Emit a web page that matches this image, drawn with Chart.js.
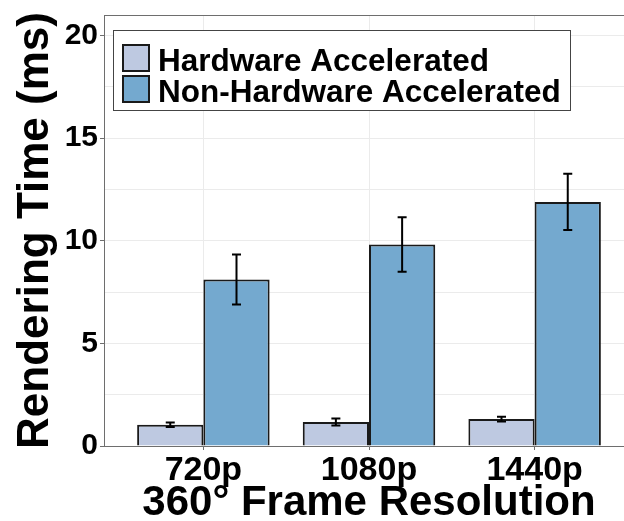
<!DOCTYPE html>
<html>
<head>
<meta charset="utf-8">
<script src="https://cdn.jsdelivr.net/npm/chart.js@4/dist/chart.umd.min.js"></script>
<style>
  html, body { margin: 0; padding: 0; overflow: hidden; background: #fff; }
  canvas { display: block; }
</style>
</head>
<body>
<canvas id="c" width="636" height="521"></canvas>
<script>
// Rendering time per 360° frame resolution (ms), mean and error
const resolutions = ['720p', '1080p', '1440p'];
const seriesNames = ['Hardware Accelerated', 'Non-Hardware Accelerated'];
const hwMean = [1.04, 1.17, 1.31];
const hwErr = [0.11, 0.17, 0.12];
const nhwMean = [8.11, 9.82, 11.89];
const nhwErr = [1.22, 1.33, 1.37];
const yTickLabels = [0, 5, 10, 15, 20];

const FONT = "'Liberation Sans', Arial, Helvetica, sans-serif";
const AXIS_GREY = '#6e6e6e';
const GRID_GREY = '#ebebeb';

const errors = [hwErr, nhwErr];

function toPoints(means) {
  return means.map((v, i) => ({ x: i, y: v }));
}

// error bars with caps, drawn from each bar's value +/- its error
const errorBarPlugin = {
  id: 'errorBars',
  afterDatasetsDraw(chart) {
    const ctx = chart.ctx;
    const yScale = chart.scales.y;
    ctx.save();
    ctx.strokeStyle = '#000';
    ctx.lineWidth = 2;
    chart.data.datasets.forEach((ds, di) => {
      const meta = chart.getDatasetMeta(di);
      meta.data.forEach((bar, j) => {
        const v = ds.data[j].y;
        const e = errors[di][j];
        const yTop = yScale.getPixelForValue(v + e);
        const yBot = yScale.getPixelForValue(v - e);
        const x = bar.x;
        ctx.beginPath();
        ctx.moveTo(x, yTop); ctx.lineTo(x, yBot);
        ctx.moveTo(x - 4.5, yTop); ctx.lineTo(x + 4.5, yTop);
        ctx.moveTo(x - 4.5, yBot); ctx.lineTo(x + 4.5, yBot);
        ctx.stroke();
      });
    });
    ctx.restore();
  }
};

// top edge of the panel and the boxed legend in the upper left
const panelPlugin = {
  id: 'panel',
  afterDraw(chart) {
    const ctx = chart.ctx;
    const a = chart.chartArea;
    ctx.save();
    ctx.strokeStyle = AXIS_GREY;
    ctx.lineWidth = 1;
    ctx.beginPath();
    ctx.moveTo(a.left, a.top + 0.5);
    ctx.lineTo(a.right, a.top + 0.5);
    ctx.stroke();

    // legend box
    const bx = 113.5, by = 30.5, bw = 457, bh = 80;
    ctx.fillStyle = '#fff';
    ctx.fillRect(bx, by, bw, bh);
    ctx.strokeStyle = '#444';
    ctx.lineWidth = 1;
    ctx.strokeRect(bx, by, bw, bh);

    const rows = [{ y: 44, base: 71 }, { y: 75, base: 101.5 }];
    ctx.font = 'bold 31.5px ' + FONT;
    ctx.textBaseline = 'alphabetic';
    ctx.textAlign = 'left';
    chart.data.datasets.forEach((ds, i) => {
      const r = rows[i];
      ctx.fillStyle = ds.backgroundColor;
      ctx.fillRect(122, r.y, 28, 28);
      ctx.strokeStyle = '#1a1a1a';
      ctx.lineWidth = 2;
      ctx.strokeRect(123, r.y + 1, 26, 26);
      ctx.fillStyle = '#000';
      ctx.fillText(ds.label, 158, r.base);
    });
    ctx.restore();
  }
};

const yMinor = [];
for (let i = 0; i < yTickLabels.length; i++) {
  yMinor.push(yTickLabels[i]);
  if (i < yTickLabels.length - 1) yMinor.push((yTickLabels[i] + yTickLabels[i + 1]) / 2);
}

new Chart(document.getElementById('c'), {
  type: 'bar',
  data: {
    datasets: [
      {
        label: seriesNames[0],
        data: toPoints(hwMean),
        backgroundColor: '#bec9e1',
        borderColor: '#1a1a1a',
        borderWidth: 2,
        borderSkipped: 'bottom'
      },
      {
        label: seriesNames[1],
        data: toPoints(nhwMean),
        backgroundColor: '#74a9cf',
        borderColor: '#1a1a1a',
        borderWidth: 2,
        borderSkipped: 'bottom'
      }
    ]
  },
  options: {
    responsive: false,
    animation: false,
    events: [],
    layout: { padding: { top: 15, right: 2, left: 0, bottom: 0 } },
    datasets: { bar: { categoryPercentage: 0.8, barPercentage: 1.0 } },
    plugins: {
      legend: { display: false },
      tooltip: { enabled: false }
    },
    scales: {
      x: {
        type: 'linear',
        min: -0.6,
        max: 2.6,
        offset: false,
        afterBuildTicks(scale) {
          scale.ticks = resolutions.map((_, i) => ({ value: i }));
        },
        afterFit(scale) {
          scale.height = 75;
          scale.paddingLeft = 0;
          scale.paddingRight = 0;
        },
        ticks: {
          callback: (v) => resolutions[v] ?? '',
          color: '#000',
          font: { family: FONT, size: 34, weight: 'bold' },
          padding: 0,
          maxRotation: 0
        },
        grid: { offset: false, color: GRID_GREY, lineWidth: 1, tickLength: 4, tickColor: AXIS_GREY },
        border: { color: AXIS_GREY, width: 1 },
        title: {
          display: true,
          text: '360° Frame Resolution',
          color: '#000',
          font: { family: FONT, size: 42, weight: 'bold', lineHeight: 0.85 },
          padding: { top: 0, bottom: 0 }
        }
      },
      y: {
        min: 0,
        max: 21,
        afterBuildTicks(scale) {
          scale.ticks = yMinor.map(v => ({ value: v }));
        },
        afterFit(scale) {
          scale.width = 104;
          scale.paddingTop = 0;
          scale.paddingBottom = 0;
        },
        ticks: {
          callback: (v) => yTickLabels.includes(v) ? String(v) : '',
          color: '#000',
          font: { family: FONT, size: 30, weight: 'bold' },
          padding: 2
        },
        grid: {
          color: GRID_GREY,
          lineWidth: 1,
          tickLength: 4,
          tickColor: (c) => (c.tick && yTickLabels.includes(c.tick.value)) ? AXIS_GREY : 'rgba(0,0,0,0)'
        },
        border: { color: AXIS_GREY, width: 1 },
        title: {
          display: true,
          text: 'Rendering Time (ms)',
          color: '#000',
          font: { family: FONT, size: 44, weight: 'bold', lineHeight: 1.2 },
          padding: { top: 9, bottom: 0 }
        }
      }
    }
  },
  plugins: [errorBarPlugin, panelPlugin]
});
</script>
</body>
</html>
